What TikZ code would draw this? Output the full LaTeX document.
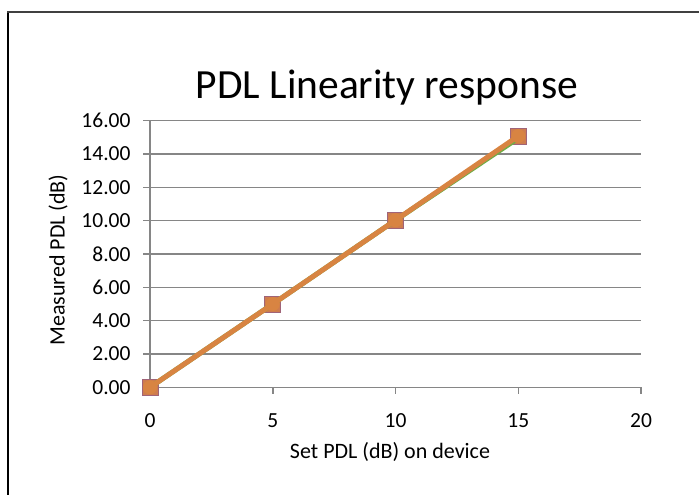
\documentclass[tikz,border=0pt]{standalone}
\usepackage{fontspec}
\setmainfont{Carlito}
\usetikzlibrary{positioning}
\definecolor{gridgray}{RGB}{134,134,134}
\definecolor{pdlorange}{RGB}{216,132,66}
\definecolor{pdlgreen}{RGB}{112,173,71}
\definecolor{pdlred}{RGB}{160,100,120}
\definecolor{pdlsquare}{RGB}{206,124,78}

\begin{document}
\begin{tikzpicture}[x=1pt,y=-1pt,
  grid line/.style={gridgray,line width=1.5pt},
  tick label/.style={font=\fontsize{21.5}{24}\selectfont},
  axis label/.style={font=\fontsize{22}{26}\selectfont},
  sqmark/.style={rectangle,fill=pdlsquare,draw=pdlred,line width=0.6pt,minimum size=16pt,inner sep=0pt},
  dotmark/.style={circle,fill=pdlorange,minimum size=14pt,inner sep=0pt},
  series/.style={line width=5pt,line join=round}]
  \useasboundingbox (0,0) rectangle (699,495);
  \draw[line width=2pt] (8,495) -- (8,12);
  \draw[line width=2pt,black!75] (7,12) -- (699,12);
  \node[font=\fontsize{41.5}{48}\selectfont] (title) at (387,88) {PDL Linearity response};
  \begin{scope}[shift={(150,387.3)},x=24.55pt,y=16.66pt]
    % grid and axes
    \foreach \v in {0,2,...,16} {
      \draw[grid line] ([xshift=-7pt]0,\v) -- (20,\v);
      \node[tick label,anchor=east] (y\v) at ([xshift=-16pt]0,\v) {\v.00};
    }
    \draw[grid line] (0,0) -- (0,16);
    \foreach \u in {0,5,...,20} {
      \draw[grid line] (\u,0) -- ([yshift=-7pt]\u,0);
      \node[tick label] (x\u) at ([yshift=-33pt]\u,0) {\u};
    }
    % series
    \foreach \i/\u/\m in {0/0/0,1/5/5,2/10/10.03,3/15/15.08}
      \node[sqmark] (m\i) at (\u,\m) {};
    \draw[series,pdlgreen] (m0.center) -- (m1.center) -- (m2.center) -- ([yshift=-2pt]m3.center);
    \draw[series,pdlorange] (m0.center) -- (m1.center) -- (m2.center) -- (m3.center);
    \foreach \i in {0,...,3}
      \node[dotmark] (d\i) at (m\i) {};
  \end{scope}
  \node[axis label,rotate=90] (ytitle) at (58,260) {Measured PDL (dB)};
  \node[axis label] (xtitle) at (390,452) {Set PDL (dB) on device};
\end{tikzpicture}
\end{document}
